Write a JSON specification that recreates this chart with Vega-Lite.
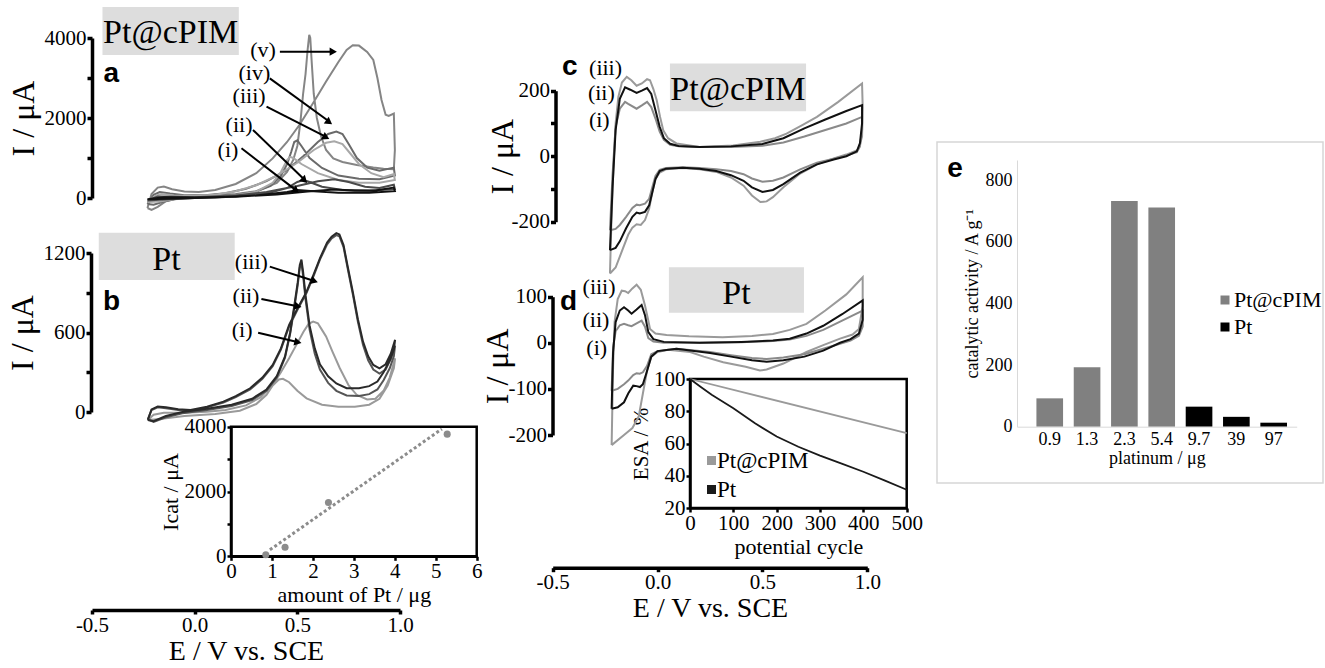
{
"$schema":"https://vega.github.io/schema/vega-lite/v6.json",
"width":1325,"height":668,"autosize":"none","padding":0,"background":"white",
"config":{"font":"Liberation Serif","view":{"stroke":null},"axis":{"grid":false,"labelFont":"Liberation Serif","titleFont":"Liberation Serif","labelColor":"#000","titleColor":"#000","titleFontWeight":"normal","domainColor":"#000","tickColor":"#000","labelFlush":false,"labelOverlap":false},"legend":{"labelFont":"Liberation Serif","labelColor":"#000","padding":0}},
"datasets":{
"a":[
{"c":"v","E":-0.23,"I":-250},{"c":"v","E":-0.21,"I":100},{"c":"v","E":-0.18,"I":260},{"c":"v","E":-0.15,"I":285},{"c":"v","E":-0.11,"I":220},{"c":"v","E":-0.05,"I":160},{"c":"v","E":0.02,"I":150},{"c":"v","E":0.1,"I":200},{"c":"v","E":0.2,"I":350},{"c":"v","E":0.3,"I":620},{"c":"v","E":0.38,"I":990},{"c":"v","E":0.45,"I":1400},{"c":"v","E":0.51,"I":1825},{"c":"v","E":0.58,"I":2400},{"c":"v","E":0.64,"I":2910},{"c":"v","E":0.7,"I":3400},{"c":"v","E":0.74,"I":3700},{"c":"v","E":0.77,"I":3820},{"c":"v","E":0.8,"I":3810},{"c":"v","E":0.84,"I":3650},{"c":"v","E":0.87,"I":3450},{"c":"v","E":0.89,"I":3000},{"c":"v","E":0.91,"I":2450},{"c":"v","E":0.93,"I":2080},{"c":"v","E":0.945,"I":2050},{"c":"v","E":0.97,"I":2110},
{"c":"v","E":0.975,"I":1200},{"c":"v","E":0.97,"I":720},{"c":"v","E":0.92,"I":730},{"c":"v","E":0.87,"I":760},{"c":"v","E":0.79,"I":825},{"c":"v","E":0.72,"I":900},{"c":"v","E":0.675,"I":990},{"c":"v","E":0.64,"I":1200},{"c":"v","E":0.615,"I":1550},{"c":"v","E":0.595,"I":2000},{"c":"v","E":0.58,"I":2600},{"c":"v","E":0.57,"I":3400},{"c":"v","E":0.563,"I":4000},{"c":"v","E":0.558,"I":4080},{"c":"v","E":0.55,"I":3700},{"c":"v","E":0.54,"I":3100},{"c":"v","E":0.528,"I":2600},{"c":"v","E":0.515,"I":1900},{"c":"v","E":0.5,"I":1300},{"c":"v","E":0.48,"I":950},{"c":"v","E":0.45,"I":650},{"c":"v","E":0.4,"I":380},{"c":"v","E":0.3,"I":170},{"c":"v","E":0.2,"I":100},{"c":"v","E":0.1,"I":70},{"c":"v","E":0.0,"I":40},{"c":"v","E":-0.08,"I":0},{"c":"v","E":-0.14,"I":-80},{"c":"v","E":-0.18,"I":-220},{"c":"v","E":-0.21,"I":-300},{"c":"v","E":-0.23,"I":-250},
{"c":"iv","E":-0.23,"I":-150},{"c":"iv","E":-0.2,"I":80},{"c":"iv","E":-0.17,"I":150},{"c":"iv","E":-0.12,"I":110},{"c":"iv","E":-0.05,"I":70},{"c":"iv","E":0.05,"I":70},{"c":"iv","E":0.15,"I":120},{"c":"iv","E":0.25,"I":230},{"c":"iv","E":0.35,"I":420},{"c":"iv","E":0.45,"I":700},{"c":"iv","E":0.53,"I":1050},{"c":"iv","E":0.6,"I":1400},{"c":"iv","E":0.65,"I":1600},{"c":"iv","E":0.69,"I":1660},{"c":"iv","E":0.72,"I":1600},{"c":"iv","E":0.75,"I":1350},{"c":"iv","E":0.79,"I":1000},{"c":"iv","E":0.84,"I":760},{"c":"iv","E":0.9,"I":680},{"c":"iv","E":0.97,"I":760},
{"c":"iv","E":0.975,"I":560},{"c":"iv","E":0.9,"I":470},{"c":"iv","E":0.8,"I":480},{"c":"iv","E":0.7,"I":560},{"c":"iv","E":0.62,"I":750},{"c":"iv","E":0.56,"I":1000},{"c":"iv","E":0.52,"I":1300},{"c":"iv","E":0.5,"I":1440},{"c":"iv","E":0.485,"I":1400},{"c":"iv","E":0.47,"I":1150},{"c":"iv","E":0.45,"I":850},{"c":"iv","E":0.42,"I":550},{"c":"iv","E":0.37,"I":300},{"c":"iv","E":0.3,"I":160},{"c":"iv","E":0.2,"I":80},{"c":"iv","E":0.05,"I":30},{"c":"iv","E":-0.08,"I":-10},{"c":"iv","E":-0.15,"I":-90},{"c":"iv","E":-0.2,"I":-170},{"c":"iv","E":-0.23,"I":-150},
{"c":"iii","E":-0.23,"I":-100},{"c":"iii","E":-0.19,"I":60},{"c":"iii","E":-0.16,"I":100},{"c":"iii","E":-0.1,"I":60},{"c":"iii","E":0.0,"I":50},{"c":"iii","E":0.1,"I":80},{"c":"iii","E":0.2,"I":170},{"c":"iii","E":0.3,"I":320},{"c":"iii","E":0.4,"I":560},{"c":"iii","E":0.5,"I":880},{"c":"iii","E":0.58,"I":1200},{"c":"iii","E":0.64,"I":1380},{"c":"iii","E":0.68,"I":1420},{"c":"iii","E":0.72,"I":1350},{"c":"iii","E":0.76,"I":1100},{"c":"iii","E":0.8,"I":850},{"c":"iii","E":0.86,"I":620},{"c":"iii","E":0.92,"I":520},{"c":"iii","E":0.97,"I":600},
{"c":"iii","E":0.975,"I":450},{"c":"iii","E":0.9,"I":380},{"c":"iii","E":0.8,"I":380},{"c":"iii","E":0.7,"I":450},{"c":"iii","E":0.6,"I":620},{"c":"iii","E":0.52,"I":850},{"c":"iii","E":0.48,"I":1000},{"c":"iii","E":0.465,"I":1030},{"c":"iii","E":0.45,"I":950},{"c":"iii","E":0.42,"I":650},{"c":"iii","E":0.38,"I":380},{"c":"iii","E":0.3,"I":160},{"c":"iii","E":0.2,"I":70},{"c":"iii","E":0.05,"I":20},{"c":"iii","E":-0.1,"I":-30},{"c":"iii","E":-0.17,"I":-90},{"c":"iii","E":-0.23,"I":-100},
{"c":"ii","E":-0.23,"I":-60},{"c":"ii","E":-0.18,"I":40},{"c":"ii","E":-0.1,"I":30},{"c":"ii","E":0.0,"I":20},{"c":"ii","E":0.2,"I":60},{"c":"ii","E":0.35,"I":150},{"c":"ii","E":0.5,"I":300},{"c":"ii","E":0.6,"I":420},{"c":"ii","E":0.68,"I":470},{"c":"ii","E":0.75,"I":400},{"c":"ii","E":0.83,"I":280},{"c":"ii","E":0.9,"I":250},{"c":"ii","E":0.97,"I":330},
{"c":"ii","E":0.975,"I":220},{"c":"ii","E":0.85,"I":180},{"c":"ii","E":0.72,"I":200},{"c":"ii","E":0.62,"I":280},{"c":"ii","E":0.56,"I":400},{"c":"ii","E":0.53,"I":450},{"c":"ii","E":0.5,"I":400},{"c":"ii","E":0.45,"I":250},{"c":"ii","E":0.35,"I":110},{"c":"ii","E":0.2,"I":40},{"c":"ii","E":0.0,"I":0},{"c":"ii","E":-0.15,"I":-40},{"c":"ii","E":-0.23,"I":-60},
{"c":"i","E":-0.23,"I":-30},{"c":"i","E":-0.15,"I":20},{"c":"i","E":0.0,"I":10},{"c":"i","E":0.2,"I":30},{"c":"i","E":0.4,"I":90},{"c":"i","E":0.55,"I":160},{"c":"i","E":0.68,"I":210},{"c":"i","E":0.78,"I":190},{"c":"i","E":0.88,"I":190},{"c":"i","E":0.97,"I":260},
{"c":"i","E":0.975,"I":170},{"c":"i","E":0.85,"I":130},{"c":"i","E":0.7,"I":130},{"c":"i","E":0.58,"I":170},{"c":"i","E":0.5,"I":200},{"c":"i","E":0.45,"I":150},{"c":"i","E":0.3,"I":60},{"c":"i","E":0.1,"I":10},{"c":"i","E":-0.1,"I":-10},{"c":"i","E":-0.23,"I":-30}
],
"b":[
{"c":"i","E":-0.228,"I":-60},{"c":"i","E":-0.2,"I":-20},{"c":"i","E":-0.15,"I":-5},{"c":"i","E":-0.05,"I":-5},{"c":"i","E":0.06,"I":2},{"c":"i","E":0.15,"I":15},{"c":"i","E":0.25,"I":50},{"c":"i","E":0.32,"I":110},{"c":"i","E":0.38,"I":204},{"c":"i","E":0.42,"I":300},{"c":"i","E":0.46,"I":405},{"c":"i","E":0.5,"I":520},{"c":"i","E":0.53,"I":606},{"c":"i","E":0.555,"I":665},{"c":"i","E":0.577,"I":682},{"c":"i","E":0.6,"I":670},{"c":"i","E":0.62,"I":620},{"c":"i","E":0.64,"I":570},{"c":"i","E":0.67,"I":460},{"c":"i","E":0.707,"I":330},{"c":"i","E":0.75,"I":200},{"c":"i","E":0.79,"I":128},{"c":"i","E":0.84,"I":95},{"c":"i","E":0.88,"I":100},{"c":"i","E":0.92,"I":160},{"c":"i","E":0.95,"I":260},{"c":"i","E":0.976,"I":405},
{"c":"i","E":0.97,"I":330},{"c":"i","E":0.94,"I":200},{"c":"i","E":0.9,"I":100},{"c":"i","E":0.85,"I":55},{"c":"i","E":0.78,"I":40},{"c":"i","E":0.7,"I":40},{"c":"i","E":0.62,"I":55},{"c":"i","E":0.545,"I":103},{"c":"i","E":0.5,"I":160},{"c":"i","E":0.46,"I":225},{"c":"i","E":0.43,"I":250},{"c":"i","E":0.41,"I":245},{"c":"i","E":0.38,"I":200},{"c":"i","E":0.35,"I":130},{"c":"i","E":0.3,"I":60},{"c":"i","E":0.22,"I":10},{"c":"i","E":0.1,"I":-15},{"c":"i","E":-0.05,"I":-30},{"c":"i","E":-0.15,"I":-50},{"c":"i","E":-0.228,"I":-60},
{"c":"ii","E":-0.228,"I":-55},{"c":"ii","E":-0.21,"I":15},{"c":"ii","E":-0.18,"I":35},{"c":"ii","E":-0.14,"I":28},{"c":"ii","E":-0.08,"I":15},{"c":"ii","E":-0.02,"I":10},{"c":"ii","E":0.06,"I":35},{"c":"ii","E":0.14,"I":72},{"c":"ii","E":0.2,"I":112},{"c":"ii","E":0.27,"I":170},{"c":"ii","E":0.33,"I":250},{"c":"ii","E":0.38,"I":345},{"c":"ii","E":0.42,"I":470},{"c":"ii","E":0.46,"I":645},{"c":"ii","E":0.5,"I":770},{"c":"ii","E":0.545,"I":900},{"c":"ii","E":0.58,"I":1030},{"c":"ii","E":0.61,"I":1150},{"c":"ii","E":0.645,"I":1265},{"c":"ii","E":0.667,"I":1310},{"c":"ii","E":0.69,"I":1335},{"c":"ii","E":0.705,"I":1325},{"c":"ii","E":0.725,"I":1245},{"c":"ii","E":0.745,"I":1085},{"c":"ii","E":0.77,"I":890},{"c":"ii","E":0.795,"I":680},{"c":"ii","E":0.82,"I":505},{"c":"ii","E":0.845,"I":390},{"c":"ii","E":0.87,"I":320},{"c":"ii","E":0.9,"I":290},{"c":"ii","E":0.93,"I":320},{"c":"ii","E":0.955,"I":400},{"c":"ii","E":0.976,"I":500},
{"c":"ii","E":0.97,"I":420},{"c":"ii","E":0.95,"I":330},{"c":"ii","E":0.92,"I":240},{"c":"ii","E":0.89,"I":170},{"c":"ii","E":0.85,"I":135},{"c":"ii","E":0.8,"I":120},{"c":"ii","E":0.74,"I":125},{"c":"ii","E":0.69,"I":160},{"c":"ii","E":0.65,"I":220},{"c":"ii","E":0.61,"I":320},{"c":"ii","E":0.585,"I":440},{"c":"ii","E":0.56,"I":620},{"c":"ii","E":0.54,"I":850},{"c":"ii","E":0.528,"I":1030},{"c":"ii","E":0.52,"I":1120},{"c":"ii","E":0.512,"I":1090},{"c":"ii","E":0.502,"I":960},{"c":"ii","E":0.485,"I":780},{"c":"ii","E":0.465,"I":590},{"c":"ii","E":0.44,"I":410},{"c":"ii","E":0.4,"I":260},{"c":"ii","E":0.35,"I":160},{"c":"ii","E":0.28,"I":90},{"c":"ii","E":0.18,"I":45},{"c":"ii","E":0.06,"I":15},{"c":"ii","E":-0.06,"I":-10},{"c":"ii","E":-0.14,"I":-40},{"c":"ii","E":-0.2,"I":-75},{"c":"ii","E":-0.228,"I":-55},
{"c":"iii","E":-0.228,"I":-60},{"c":"iii","E":-0.21,"I":20},{"c":"iii","E":-0.18,"I":42},{"c":"iii","E":-0.14,"I":35},{"c":"iii","E":-0.08,"I":20},{"c":"iii","E":-0.02,"I":15},{"c":"iii","E":0.06,"I":40},{"c":"iii","E":0.14,"I":78},{"c":"iii","E":0.2,"I":120},{"c":"iii","E":0.27,"I":179},{"c":"iii","E":0.33,"I":260},{"c":"iii","E":0.38,"I":355},{"c":"iii","E":0.42,"I":480},{"c":"iii","E":0.46,"I":657},{"c":"iii","E":0.5,"I":780},{"c":"iii","E":0.545,"I":908},{"c":"iii","E":0.58,"I":1040},{"c":"iii","E":0.61,"I":1160},{"c":"iii","E":0.645,"I":1280},{"c":"iii","E":0.667,"I":1323},{"c":"iii","E":0.69,"I":1350},{"c":"iii","E":0.705,"I":1340},{"c":"iii","E":0.725,"I":1260},{"c":"iii","E":0.745,"I":1100},{"c":"iii","E":0.77,"I":908},{"c":"iii","E":0.795,"I":700},{"c":"iii","E":0.82,"I":531},{"c":"iii","E":0.845,"I":420},{"c":"iii","E":0.87,"I":355},{"c":"iii","E":0.9,"I":330},{"c":"iii","E":0.93,"I":360},{"c":"iii","E":0.955,"I":440},{"c":"iii","E":0.976,"I":545},
{"c":"iii","E":0.97,"I":470},{"c":"iii","E":0.95,"I":390},{"c":"iii","E":0.92,"I":300},{"c":"iii","E":0.89,"I":230},{"c":"iii","E":0.85,"I":195},{"c":"iii","E":0.8,"I":180},{"c":"iii","E":0.74,"I":180},{"c":"iii","E":0.69,"I":215},{"c":"iii","E":0.65,"I":270},{"c":"iii","E":0.61,"I":360},{"c":"iii","E":0.585,"I":480},{"c":"iii","E":0.56,"I":650},{"c":"iii","E":0.54,"I":880},{"c":"iii","E":0.528,"I":1060},{"c":"iii","E":0.52,"I":1150},{"c":"iii","E":0.512,"I":1110},{"c":"iii","E":0.502,"I":980},{"c":"iii","E":0.485,"I":800},{"c":"iii","E":0.465,"I":600},{"c":"iii","E":0.44,"I":420},{"c":"iii","E":0.4,"I":270},{"c":"iii","E":0.35,"I":170},{"c":"iii","E":0.28,"I":100},{"c":"iii","E":0.18,"I":55},{"c":"iii","E":0.06,"I":25},{"c":"iii","E":-0.06,"I":0},{"c":"iii","E":-0.14,"I":-30},{"c":"iii","E":-0.2,"I":-70},{"c":"iii","E":-0.228,"I":-60}
],
"c":[
{"c":"iii","E":-0.227,"I":-358},{"c":"iii","E":-0.22,"I":-200},{"c":"iii","E":-0.211,"I":-43},{"c":"iii","E":-0.2,"I":100},{"c":"iii","E":-0.187,"I":181},{"c":"iii","E":-0.17,"I":225},{"c":"iii","E":-0.147,"I":242},{"c":"iii","E":-0.125,"I":232},{"c":"iii","E":-0.1,"I":215},{"c":"iii","E":-0.075,"I":222},{"c":"iii","E":-0.05,"I":235},{"c":"iii","E":-0.036,"I":232},{"c":"iii","E":-0.02,"I":205},{"c":"iii","E":-0.004,"I":171},{"c":"iii","E":0.012,"I":120},{"c":"iii","E":0.027,"I":79},{"c":"iii","E":0.05,"I":55},{"c":"iii","E":0.09,"I":39},{"c":"iii","E":0.2,"I":28},{"c":"iii","E":0.36,"I":33},{"c":"iii","E":0.49,"I":44},{"c":"iii","E":0.56,"I":55},{"c":"iii","E":0.615,"I":69},{"c":"iii","E":0.69,"I":95},{"c":"iii","E":0.76,"I":120},{"c":"iii","E":0.86,"I":165},{"c":"iii","E":0.975,"I":222},
{"c":"iii","E":0.978,"I":150},{"c":"iii","E":0.975,"I":60},{"c":"iii","E":0.96,"I":25},{"c":"iii","E":0.95,"I":18},{"c":"iii","E":0.9,"I":5},{"c":"iii","E":0.84,"I":-7},{"c":"iii","E":0.76,"I":-25},{"c":"iii","E":0.68,"I":-53},{"c":"iii","E":0.6,"I":-95},{"c":"iii","E":0.55,"I":-125},{"c":"iii","E":0.52,"I":-138},{"c":"iii","E":0.49,"I":-140},{"c":"iii","E":0.45,"I":-120},{"c":"iii","E":0.41,"I":-90},{"c":"iii","E":0.35,"I":-65},{"c":"iii","E":0.28,"I":-48},{"c":"iii","E":0.2,"I":-40},{"c":"iii","E":0.12,"I":-36},{"c":"iii","E":0.04,"I":-40},{"c":"iii","E":0.01,"I":-50},{"c":"iii","E":-0.01,"I":-70},{"c":"iii","E":-0.025,"I":-110},{"c":"iii","E":-0.04,"I":-160},{"c":"iii","E":-0.06,"I":-195},{"c":"iii","E":-0.08,"I":-210},{"c":"iii","E":-0.1,"I":-208},{"c":"iii","E":-0.12,"I":-218},{"c":"iii","E":-0.14,"I":-240},{"c":"iii","E":-0.17,"I":-290},{"c":"iii","E":-0.2,"I":-340},{"c":"iii","E":-0.227,"I":-358},
{"c":"i","E":-0.227,"I":-226},{"c":"i","E":-0.215,"I":-60},{"c":"i","E":-0.2,"I":90},{"c":"i","E":-0.18,"I":145},{"c":"i","E":-0.155,"I":166},{"c":"i","E":-0.14,"I":160},{"c":"i","E":-0.1,"I":145},{"c":"i","E":-0.075,"I":155},{"c":"i","E":-0.05,"I":166},{"c":"i","E":-0.03,"I":150},{"c":"i","E":-0.01,"I":115},{"c":"i","E":0.01,"I":75},{"c":"i","E":0.03,"I":50},{"c":"i","E":0.06,"I":35},{"c":"i","E":0.1,"I":30},{"c":"i","E":0.2,"I":28},{"c":"i","E":0.35,"I":28},{"c":"i","E":0.5,"I":32},{"c":"i","E":0.6,"I":42},{"c":"i","E":0.7,"I":60},{"c":"i","E":0.8,"I":80},{"c":"i","E":0.9,"I":100},{"c":"i","E":0.975,"I":120},
{"c":"i","E":0.975,"I":80},{"c":"i","E":0.965,"I":30},{"c":"i","E":0.95,"I":12},{"c":"i","E":0.9,"I":2},{"c":"i","E":0.84,"I":-8},{"c":"i","E":0.76,"I":-20},{"c":"i","E":0.68,"I":-40},{"c":"i","E":0.6,"I":-65},{"c":"i","E":0.55,"I":-75},{"c":"i","E":0.5,"I":-78},{"c":"i","E":0.45,"I":-68},{"c":"i","E":0.41,"I":-55},{"c":"i","E":0.35,"I":-45},{"c":"i","E":0.28,"I":-40},{"c":"i","E":0.2,"I":-36},{"c":"i","E":0.12,"I":-34},{"c":"i","E":0.04,"I":-36},{"c":"i","E":0.01,"I":-42},{"c":"i","E":-0.01,"I":-60},{"c":"i","E":-0.025,"I":-95},{"c":"i","E":-0.04,"I":-130},{"c":"i","E":-0.06,"I":-145},{"c":"i","E":-0.085,"I":-150},{"c":"i","E":-0.1,"I":-148},{"c":"i","E":-0.12,"I":-158},{"c":"i","E":-0.15,"I":-185},{"c":"i","E":-0.18,"I":-210},{"c":"i","E":-0.2,"I":-222},{"c":"i","E":-0.227,"I":-226},
{"c":"ii","E":-0.227,"I":-287},{"c":"ii","E":-0.215,"I":-100},{"c":"ii","E":-0.2,"I":80},{"c":"ii","E":-0.18,"I":175},{"c":"ii","E":-0.155,"I":210},{"c":"ii","E":-0.13,"I":203},{"c":"ii","E":-0.1,"I":193},{"c":"ii","E":-0.075,"I":200},{"c":"ii","E":-0.05,"I":208},{"c":"ii","E":-0.03,"I":190},{"c":"ii","E":-0.01,"I":140},{"c":"ii","E":0.01,"I":90},{"c":"ii","E":0.03,"I":55},{"c":"ii","E":0.06,"I":38},{"c":"ii","E":0.1,"I":31},{"c":"ii","E":0.2,"I":28},{"c":"ii","E":0.35,"I":30},{"c":"ii","E":0.5,"I":37},{"c":"ii","E":0.6,"I":55},{"c":"ii","E":0.7,"I":85},{"c":"ii","E":0.8,"I":112},{"c":"ii","E":0.9,"I":138},{"c":"ii","E":0.975,"I":156},
{"c":"ii","E":0.975,"I":100},{"c":"ii","E":0.965,"I":40},{"c":"ii","E":0.95,"I":15},{"c":"ii","E":0.9,"I":0},{"c":"ii","E":0.84,"I":-10},{"c":"ii","E":0.76,"I":-25},{"c":"ii","E":0.68,"I":-50},{"c":"ii","E":0.6,"I":-85},{"c":"ii","E":0.55,"I":-103},{"c":"ii","E":0.5,"I":-109},{"c":"ii","E":0.45,"I":-95},{"c":"ii","E":0.41,"I":-75},{"c":"ii","E":0.35,"I":-58},{"c":"ii","E":0.28,"I":-45},{"c":"ii","E":0.2,"I":-38},{"c":"ii","E":0.12,"I":-35},{"c":"ii","E":0.04,"I":-38},{"c":"ii","E":0.01,"I":-45},{"c":"ii","E":-0.01,"I":-70},{"c":"ii","E":-0.025,"I":-110},{"c":"ii","E":-0.04,"I":-150},{"c":"ii","E":-0.06,"I":-170},{"c":"ii","E":-0.085,"I":-175},{"c":"ii","E":-0.1,"I":-172},{"c":"ii","E":-0.12,"I":-185},{"c":"ii","E":-0.15,"I":-220},{"c":"ii","E":-0.18,"I":-260},{"c":"ii","E":-0.2,"I":-280},{"c":"ii","E":-0.227,"I":-287}
],
"d":[
{"c":"iii","E":-0.219,"I":-222},{"c":"iii","E":-0.212,"I":-50},{"c":"iii","E":-0.205,"I":45},{"c":"iii","E":-0.19,"I":95},{"c":"iii","E":-0.171,"I":113},{"c":"iii","E":-0.155,"I":112},{"c":"iii","E":-0.14,"I":108},{"c":"iii","E":-0.12,"I":118},{"c":"iii","E":-0.1,"I":126},{"c":"iii","E":-0.08,"I":115},{"c":"iii","E":-0.06,"I":81},{"c":"iii","E":-0.045,"I":50},{"c":"iii","E":-0.036,"I":30},{"c":"iii","E":-0.01,"I":20},{"c":"iii","E":0.043,"I":17},{"c":"iii","E":0.15,"I":14},{"c":"iii","E":0.31,"I":12},{"c":"iii","E":0.45,"I":15},{"c":"iii","E":0.55,"I":19},{"c":"iii","E":0.63,"I":28},{"c":"iii","E":0.71,"I":41},{"c":"iii","E":0.8,"I":70},{"c":"iii","E":0.9,"I":105},{"c":"iii","E":0.978,"I":142},
{"c":"iii","E":0.978,"I":80},{"c":"iii","E":0.96,"I":30},{"c":"iii","E":0.93,"I":18},{"c":"iii","E":0.87,"I":9},{"c":"iii","E":0.79,"I":-5},{"c":"iii","E":0.71,"I":-20},{"c":"iii","E":0.6,"I":-45},{"c":"iii","E":0.52,"I":-58},{"c":"iii","E":0.488,"I":-60},{"c":"iii","E":0.42,"I":-52},{"c":"iii","E":0.313,"I":-42},{"c":"iii","E":0.22,"I":-30},{"c":"iii","E":0.155,"I":-20},{"c":"iii","E":0.05,"I":-15},{"c":"iii","E":0.0,"I":-20},{"c":"iii","E":-0.03,"I":-30},{"c":"iii","E":-0.05,"I":-60},{"c":"iii","E":-0.07,"I":-110},{"c":"iii","E":-0.09,"I":-160},{"c":"iii","E":-0.12,"I":-185},{"c":"iii","E":-0.16,"I":-200},{"c":"iii","E":-0.219,"I":-222},
{"c":"i","E":-0.219,"I":-104},{"c":"i","E":-0.212,"I":-10},{"c":"i","E":-0.2,"I":25},{"c":"i","E":-0.18,"I":38},{"c":"i","E":-0.16,"I":41},{"c":"i","E":-0.14,"I":38},{"c":"i","E":-0.124,"I":36},{"c":"i","E":-0.1,"I":42},{"c":"i","E":-0.076,"I":48},{"c":"i","E":-0.06,"I":35},{"c":"i","E":-0.044,"I":10},{"c":"i","E":-0.02,"I":3},{"c":"i","E":0.03,"I":0},{"c":"i","E":0.2,"I":0},{"c":"i","E":0.4,"I":1},{"c":"i","E":0.55,"I":4},{"c":"i","E":0.63,"I":7},{"c":"i","E":0.71,"I":15},{"c":"i","E":0.79,"I":28},{"c":"i","E":0.88,"I":48},{"c":"i","E":0.978,"I":70},
{"c":"i","E":0.978,"I":35},{"c":"i","E":0.96,"I":15},{"c":"i","E":0.92,"I":5},{"c":"i","E":0.87,"I":-2},{"c":"i","E":0.79,"I":-13},{"c":"i","E":0.7,"I":-25},{"c":"i","E":0.6,"I":-32},{"c":"i","E":0.52,"I":-35},{"c":"i","E":0.45,"I":-33},{"c":"i","E":0.35,"I":-27},{"c":"i","E":0.25,"I":-20},{"c":"i","E":0.09,"I":-13},{"c":"i","E":0.0,"I":-18},{"c":"i","E":-0.03,"I":-25},{"c":"i","E":-0.05,"I":-50},{"c":"i","E":-0.07,"I":-64},{"c":"i","E":-0.085,"I":-67},{"c":"i","E":-0.1,"I":-66},{"c":"i","E":-0.116,"I":-70},{"c":"i","E":-0.14,"I":-82},{"c":"i","E":-0.16,"I":-90},{"c":"i","E":-0.19,"I":-100},{"c":"i","E":-0.219,"I":-104},
{"c":"ii","E":-0.219,"I":-143},{"c":"ii","E":-0.212,"I":-20},{"c":"ii","E":-0.2,"I":45},{"c":"ii","E":-0.18,"I":70},{"c":"ii","E":-0.16,"I":77},{"c":"ii","E":-0.14,"I":70},{"c":"ii","E":-0.124,"I":63},{"c":"ii","E":-0.1,"I":72},{"c":"ii","E":-0.076,"I":82},{"c":"ii","E":-0.06,"I":60},{"c":"ii","E":-0.044,"I":23},{"c":"ii","E":-0.02,"I":8},{"c":"ii","E":0.03,"I":2},{"c":"ii","E":0.2,"I":0},{"c":"ii","E":0.4,"I":2},{"c":"ii","E":0.55,"I":5},{"c":"ii","E":0.63,"I":9},{"c":"ii","E":0.71,"I":20},{"c":"ii","E":0.79,"I":37},{"c":"ii","E":0.88,"I":62},{"c":"ii","E":0.978,"I":92},
{"c":"ii","E":0.978,"I":50},{"c":"ii","E":0.96,"I":20},{"c":"ii","E":0.92,"I":8},{"c":"ii","E":0.87,"I":0},{"c":"ii","E":0.79,"I":-17},{"c":"ii","E":0.7,"I":-30},{"c":"ii","E":0.6,"I":-38},{"c":"ii","E":0.52,"I":-41},{"c":"ii","E":0.45,"I":-38},{"c":"ii","E":0.35,"I":-30},{"c":"ii","E":0.25,"I":-22},{"c":"ii","E":0.09,"I":-13},{"c":"ii","E":0.0,"I":-18},{"c":"ii","E":-0.03,"I":-30},{"c":"ii","E":-0.052,"I":-64},{"c":"ii","E":-0.07,"I":-90},{"c":"ii","E":-0.084,"I":-96},{"c":"ii","E":-0.1,"I":-94},{"c":"ii","E":-0.116,"I":-93},{"c":"ii","E":-0.14,"I":-110},{"c":"ii","E":-0.16,"I":-129},{"c":"ii","E":-0.19,"I":-140},{"c":"ii","E":-0.219,"I":-143}
],
"esa":[
{"s":"Pt@cPIM","n":0,"v":100},{"s":"Pt@cPIM","n":500,"v":66.4},
{"s":"Pt","n":0,"v":100},{"s":"Pt","n":25,"v":95},{"s":"Pt","n":50,"v":90.2},{"s":"Pt","n":75,"v":86},{"s":"Pt","n":100,"v":81.9},{"s":"Pt","n":150,"v":72.5},{"s":"Pt","n":200,"v":64.3},{"s":"Pt","n":250,"v":58},{"s":"Pt","n":300,"v":52.5},{"s":"Pt","n":350,"v":47.5},{"s":"Pt","n":400,"v":42.5},{"s":"Pt","n":450,"v":37},{"s":"Pt","n":500,"v":31.3}
],
"pts":[{"m":0.85,"ic":50},{"m":1.32,"ic":280},{"m":2.38,"ic":1660},{"m":5.28,"ic":3770}],
"fit":[{"m":0.95,"ic":200},{"m":5.15,"ic":3930}],
"bars":[{"pt":"0.9","val":92,"s":"Pt@cPIM"},{"pt":"1.3","val":193,"s":"Pt@cPIM"},{"pt":"2.3","val":732,"s":"Pt@cPIM"},{"pt":"5.4","val":711,"s":"Pt@cPIM"},{"pt":"9.7","val":65,"s":"Pt"},{"pt":"39","val":32,"s":"Pt"},{"pt":"97","val":13,"s":"Pt"}]
},
"layer":[
{
"encoding":{
"x":{"field":"E","type":"quantitative","scale":{"domain":[-0.5,1],"range":[92,400],"nice":false,"zero":false},"axis":null},
"y":{"field":"I","type":"quantitative","scale":{"domain":[0,4000],"range":[198,38],"nice":false,"zero":false},"axis":{"orient":"left","offset":-92,"values":[0,1000,2000,3000,4000],"format":"d","labelExpr":"datum.value % 2000 === 0 ? datum.label : ''","title":"I / μA","titleFontSize":32,"labelFontSize":21,"domainWidth":3.5,"tickWidth":3.5,"tickSize":5,"labelPadding":1,"titlePadding":4}}
},
"layer":[
{"data":{"values":[{"E":-0.449,"E2":0.215,"I":4775,"I2":3575}]},"mark":{"type":"rect","fill":"#dddddd"},"encoding":{"x2":{"field":"E2"},"y2":{"field":"I2"}}},
{"data":{"name":"a"},"mark":{"type":"line","strokeWidth":2},"encoding":{"color":{"field":"c","type":"nominal","scale":{"domain":["i","ii","iii","iv","v"],"range":["#111111","#4a4a4a","#a8a8a8","#6a6a6a","#858585"]},"legend":null},"order":{"value":null}}},
{"data":{"values":[{"E":-0.117,"I":3867,"t":"Pt@cPIM"}]},"mark":{"type":"text","font":"Liberation Serif","fontSize":34,"align":"center","baseline":"alphabetic","color":"#000"},"encoding":{"text":{"field":"t"}}},
{"data":{"values":[{"E":-0.444,"I":2900,"t":"a"}]},"mark":{"type":"text","font":"Liberation Sans","fontWeight":"bold","fontSize":28,"align":"left","baseline":"alphabetic","color":"#000"},"encoding":{"text":{"field":"t"}}},
{"data":{"values":[{"E":0.333,"I":3533,"t":"(v)"},{"E":0.291,"I":2950,"t":"(iv)"},{"E":0.265,"I":2367,"t":"(iii)"},{"E":0.216,"I":1658,"t":"(ii)"},{"E":0.162,"I":1033,"t":"(i)"}]},"mark":{"type":"text","font":"Liberation Serif","fontSize":22,"align":"center","baseline":"alphabetic","color":"#000"},"encoding":{"text":{"field":"t"}}},
{"data":{"values":[{"E":0.415,"I":3658,"E2":0.67,"I2":3658},{"E":0.366,"I":2992,"E2":0.65,"I2":1930},{"E":0.35,"I":2283,"E2":0.635,"I2":1540},{"E":0.284,"I":1700,"E2":0.53,"I2":480},{"E":0.228,"I":1242,"E2":0.49,"I2":210}]},"mark":{"type":"rule","strokeWidth":2,"color":"#000"},"encoding":{"x2":{"field":"E2"},"y2":{"field":"I2"}}},
{"data":{"values":[{"E":0.675,"I":3658,"ang":0},{"E":0.655,"I":1895,"ang":36},{"E":0.64,"I":1515,"ang":27},{"E":0.535,"I":440,"ang":44},{"E":0.495,"I":180,"ang":37}]},"mark":{"type":"point","shape":"triangle-right","filled":true,"size":70,"color":"#000","opacity":1},"encoding":{"angle":{"field":"ang","type":"quantitative","scale":null}}}
]
},
{
"encoding":{
"x":{"field":"E","type":"quantitative","scale":{"domain":[-0.5,1],"range":[92,400],"nice":false,"zero":false},"axis":{"orient":"bottom","offset":-58,"values":[-0.5,0,0.5,1],"format":".1f","labelExpr":"replace(datum.label, '−', '-')","title":"E / V vs. SCE","titleFontSize":28,"labelFontSize":21,"domainWidth":3.5,"tickWidth":3.5,"tickSize":4,"labelPadding":0,"titlePadding":2}},
"y":{"field":"I","type":"quantitative","scale":{"domain":[0,1200],"range":[412,253],"nice":false,"zero":false},"axis":{"orient":"left","offset":-91,"values":[0,300,600,900,1200],"format":"d","labelExpr":"datum.value % 600 === 0 ? datum.label : ''","title":"I / μA","titleFontSize":32,"labelFontSize":21,"domainWidth":3.5,"tickWidth":3.5,"tickSize":5,"labelPadding":1,"titlePadding":4}}
},
"layer":[
{"data":{"values":[{"E":-0.467,"E2":0.195,"I":1353,"I2":996}]},"mark":{"type":"rect","fill":"#dddddd"},"encoding":{"x2":{"field":"E2"},"y2":{"field":"I2"}}},
{"data":{"name":"b"},"mark":{"type":"line","strokeWidth":2},"encoding":{"color":{"field":"c","type":"nominal","scale":{"domain":["i","ii","iii"],"range":["#9a9a9a","#555555","#2a2a2a"]},"legend":null},"order":{"value":null}}},
{"data":{"values":[{"E":-0.137,"I":1072,"t":"Pt"}]},"mark":{"type":"text","font":"Liberation Serif","fontSize":34,"align":"center","baseline":"alphabetic","color":"#000"},"encoding":{"text":{"field":"t"}}},
{"data":{"values":[{"E":-0.447,"I":770,"t":"b"}]},"mark":{"type":"text","font":"Liberation Sans","fontWeight":"bold","fontSize":28,"align":"left","baseline":"alphabetic","color":"#000"},"encoding":{"text":{"field":"t"}}},
{"data":{"values":[{"E":0.276,"I":1077,"t":"(iii)"},{"E":0.25,"I":820,"t":"(ii)"},{"E":0.231,"I":569,"t":"(i)"}]},"mark":{"type":"text","font":"Liberation Serif","fontSize":22,"align":"center","baseline":"alphabetic","color":"#000"},"encoding":{"text":{"field":"t"}}},
{"data":{"values":[{"E":0.366,"I":1097,"E2":0.575,"I2":992},{"E":0.325,"I":853,"E2":0.495,"I2":800},{"E":0.309,"I":598,"E2":0.495,"I2":530}]},"mark":{"type":"rule","strokeWidth":2,"color":"#000"},"encoding":{"x2":{"field":"E2"},"y2":{"field":"I2"}}},
{"data":{"values":[{"E":0.583,"I":988,"ang":18},{"E":0.503,"I":797,"ang":11},{"E":0.503,"I":526,"ang":13}]},"mark":{"type":"point","shape":"triangle-right","filled":true,"size":70,"color":"#000","opacity":1},"encoding":{"angle":{"field":"ang","type":"quantitative","scale":null}}}
]
},
{
"encoding":{
"x":{"field":"m","type":"quantitative","scale":{"domain":[0,6],"range":[231,476.7],"nice":false,"zero":false},"axis":{"orient":"bottom","offset":-111.7,"values":[0,1,2,3,4,5,6],"title":"amount of Pt / μg","titleFontSize":22,"labelFontSize":21,"domainWidth":2.5,"tickWidth":2.5,"tickSize":4,"labelPadding":0,"titlePadding":3}},
"y":{"field":"ic","type":"quantitative","scale":{"domain":[0,4000],"range":[556.3,426.7],"nice":false,"zero":false},"axis":{"orient":"left","offset":-231,"values":[0,1000,2000,3000,4000],"format":"d","labelExpr":"datum.value % 2000 === 0 ? datum.label : ''","title":"Icat / μA","titleFontSize":22,"labelFontSize":21,"domainWidth":2.5,"tickWidth":2.5,"tickSize":4,"labelPadding":1,"titlePadding":2}}
},
"layer":[
{"data":{"values":[{"m":0,"m2":6,"ic":0,"ic2":4000}]},"mark":{"type":"rect","fill":"white","fillOpacity":0,"stroke":"#000","strokeWidth":2.5},"encoding":{"x2":{"field":"m2"},"y2":{"field":"ic2"}}},
{"data":{"name":"fit"},"mark":{"type":"line","strokeWidth":3,"strokeDash":[3,2.5],"color":"#8c8c8c"},"encoding":{}},
{"data":{"name":"pts"},"mark":{"type":"circle","size":50,"color":"#8c8c8c","opacity":1}}
]
},
{
"encoding":{
"x":{"field":"E","type":"quantitative","scale":{"domain":[-0.5,1],"range":[552.7,867.3],"nice":false,"zero":false},"axis":null},
"y":{"field":"I","type":"quantitative","scale":{"domain":[-200,200],"range":[221.7,90.7],"nice":false,"zero":false},"axis":{"orient":"left","offset":-555.5,"values":[-200,-100,0,100,200],"format":"d","labelExpr":"datum.value % 200 === 0 ? replace(datum.label, '−', '-') : ''","title":"I / μA","titleFontSize":32,"labelFontSize":21,"domainWidth":3.5,"tickWidth":3.5,"tickSize":5,"labelPadding":1,"titlePadding":-8}}
},
"layer":[
{"data":{"values":[{"E":0.059,"E2":0.708,"I":283,"I2":137}]},"mark":{"type":"rect","fill":"#dddddd"},"encoding":{"x2":{"field":"E2"},"y2":{"field":"I2"}}},
{"data":{"name":"c"},"mark":{"type":"line","strokeWidth":2},"encoding":{"color":{"field":"c","type":"nominal","scale":{"domain":["i","ii","iii"],"range":["#8a8a8a","#111111","#9a9a9a"]},"legend":null},"order":{"value":null}}},
{"data":{"values":[{"E":0.383,"I":171,"t":"Pt@cPIM"}]},"mark":{"type":"text","font":"Liberation Serif","fontSize":34,"align":"center","baseline":"alphabetic","color":"#000"},"encoding":{"text":{"field":"t"}}},
{"data":{"values":[{"E":-0.418,"I":247,"t":"c"}]},"mark":{"type":"text","font":"Liberation Sans","fontWeight":"bold","fontSize":28,"align":"center","baseline":"alphabetic","color":"#000"},"encoding":{"text":{"field":"t"}}},
{"data":{"values":[{"E":-0.248,"I":247,"t":"(iii)"},{"E":-0.268,"I":171,"t":"(ii)"},{"E":-0.278,"I":90,"t":"(i)"}]},"mark":{"type":"text","font":"Liberation Serif","fontSize":22,"align":"center","baseline":"alphabetic","color":"#000"},"encoding":{"text":{"field":"t"}}}
]
},
{
"encoding":{
"x":{"field":"E","type":"quantitative","scale":{"domain":[-0.5,1],"range":[552.7,867.3],"nice":false,"zero":false},"axis":{"orient":"bottom","offset":-100.3,"values":[-0.5,0,0.5,1],"format":".1f","labelExpr":"replace(datum.label, '−', '-')","title":"E / V vs. SCE","titleFontSize":28,"labelFontSize":21,"domainWidth":3.5,"tickWidth":3.5,"tickSize":4,"labelPadding":0,"titlePadding":2}},
"y":{"field":"I","type":"quantitative","scale":{"domain":[-200,100],"range":[435,296.7],"nice":false,"zero":false},"axis":{"orient":"left","offset":-552.5,"values":[-200,-100,0,100],"format":"d","labelExpr":"replace(datum.label, '−', '-')","title":"I / μA","titleFontSize":32,"labelFontSize":21,"domainWidth":3.5,"tickWidth":3.5,"tickSize":5,"labelPadding":1,"titlePadding":-6}}
},
"layer":[
{"data":{"values":[{"E":0.054,"E2":0.698,"I":164,"I2":65}]},"mark":{"type":"rect","fill":"#dddddd"},"encoding":{"x2":{"field":"E2"},"y2":{"field":"I2"}}},
{"data":{"name":"d"},"mark":{"type":"line","strokeWidth":2},"encoding":{"color":{"field":"c","type":"nominal","scale":{"domain":["i","ii","iii"],"range":["#8a8a8a","#111111","#9a9a9a"]},"legend":null},"order":{"value":null}}},
{"data":{"values":[{"E":0.376,"I":85,"t":"Pt"}]},"mark":{"type":"text","font":"Liberation Serif","fontSize":34,"align":"center","baseline":"alphabetic","color":"#000"},"encoding":{"text":{"field":"t"}}},
{"data":{"values":[{"E":-0.424,"I":72,"t":"d"}]},"mark":{"type":"text","font":"Liberation Sans","fontWeight":"bold","fontSize":28,"align":"center","baseline":"alphabetic","color":"#000"},"encoding":{"text":{"field":"t"}}},
{"data":{"values":[{"E":-0.279,"I":106,"t":"(iii)"},{"E":-0.294,"I":34,"t":"(ii)"},{"E":-0.29,"I":-27,"t":"(i)"}]},"mark":{"type":"text","font":"Liberation Serif","fontSize":22,"align":"center","baseline":"alphabetic","color":"#000"},"encoding":{"text":{"field":"t"}}}
]
},
{
"encoding":{
"x":{"field":"n","type":"quantitative","scale":{"domain":[0,500],"range":[690,906.7],"nice":false,"zero":false},"axis":{"orient":"bottom","offset":-160,"values":[0,100,200,300,400,500],"title":"potential cycle","titleFontSize":22,"labelFontSize":21,"domainWidth":2.5,"tickWidth":2.5,"tickSize":4,"labelPadding":0,"titlePadding":3}},
"y":{"field":"v","type":"quantitative","scale":{"domain":[20,100],"range":[508,379],"nice":false,"zero":false},"axis":{"orient":"left","offset":-690,"values":[20,40,60,80,100],"title":"ESA / %","titleFontSize":21,"labelFontSize":21,"domainWidth":2.5,"tickWidth":2.5,"tickSize":4,"labelPadding":1,"titlePadding":2}}
},
"layer":[
{"data":{"values":[{"n":0,"n2":500,"v":20,"v2":100}]},"mark":{"type":"rect","fill":"white","fillOpacity":0,"stroke":"#000","strokeWidth":2.5},"encoding":{"x2":{"field":"n2"},"y2":{"field":"v2"}}},
{"data":{"name":"esa"},"mark":{"type":"line","strokeWidth":1.8},"encoding":{"color":{"field":"s","type":"nominal","scale":{"domain":["Pt@cPIM","Pt"],"range":["#9a9a9a","#1a1a1a"]},"legend":{"orient":"none","legendX":700,"legendY":449,"title":null,"symbolType":"square","symbolSize":16,"symbolStrokeWidth":5,"labelFont":"Liberation Serif","labelFontSize":23,"labelOffset":-6,"rowPadding":4}},"order":{"value":null}}}
]
},
{
"data":{"values":[{"bx":0,"bx2":1,"by":0,"by2":1}]},
"encoding":{
"x":{"field":"bx","type":"quantitative","scale":{"domain":[0,1],"range":[937,1323],"nice":false,"zero":false},"axis":null},
"y":{"field":"by","type":"quantitative","scale":{"domain":[0,1],"range":[483,142],"nice":false,"zero":false},"axis":null}
},
"layer":[
{"mark":{"type":"rect","fill":"white","fillOpacity":0,"stroke":"#d6d6d6","strokeWidth":1.5},"encoding":{"x2":{"field":"bx2"},"y2":{"field":"by2"}}},
{"data":{"values":[{"bx":0.047,"by":0.898,"t":"e"}]},"mark":{"type":"text","font":"Liberation Sans","fontWeight":"bold","fontSize":28,"align":"center","baseline":"alphabetic","color":"#000"},"encoding":{"text":{"field":"t"}}}
]
},
{
"data":{"name":"bars"},
"mark":{"type":"bar"},
"encoding":{
"x":{"field":"pt","type":"nominal","sort":null,"scale":{"domain":["0.9","1.3","2.3","5.4","9.7","39","97"],"range":[1017,1296.7],"paddingInner":0.286,"paddingOuter":0.39,"align":0.667},"axis":{"orient":"bottom","offset":-241.3,"zindex":1,"title":"platinum / μg","labelAngle":0,"ticks":false,"domainColor":"#d9d9d9","domainWidth":1,"labelFontSize":18,"titleFontSize":18,"labelPadding":4,"titlePadding":1}},
"y":{"field":"val","type":"quantitative","scale":{"domain":[0,865],"range":[426.7,160],"nice":false},"axis":{"orient":"left","offset":-1017,"zindex":1,"values":[0,200,400,600,800],"ticks":false,"domainColor":"#d9d9d9","domainWidth":1,"title":"catalytic activity / A g⁻¹","titleFontSize":18,"labelFontSize":18,"labelPadding":5,"titlePadding":4}},
"color":{"field":"s","type":"nominal","scale":{"domain":["Pt@cPIM","Pt"],"range":["#808080","#000000"]},"legend":{"orient":"none","legendX":1214,"legendY":289,"title":null,"symbolType":"square","symbolSize":81,"symbolStrokeWidth":0,"labelFont":"Liberation Serif","labelFontSize":22,"labelOffset":-2,"rowPadding":5}}
}
}
],
"resolve":{"scale":{"x":"independent","y":"independent","color":"independent"},"axis":{"x":"independent","y":"independent"},"legend":{"color":"independent"}}
}
